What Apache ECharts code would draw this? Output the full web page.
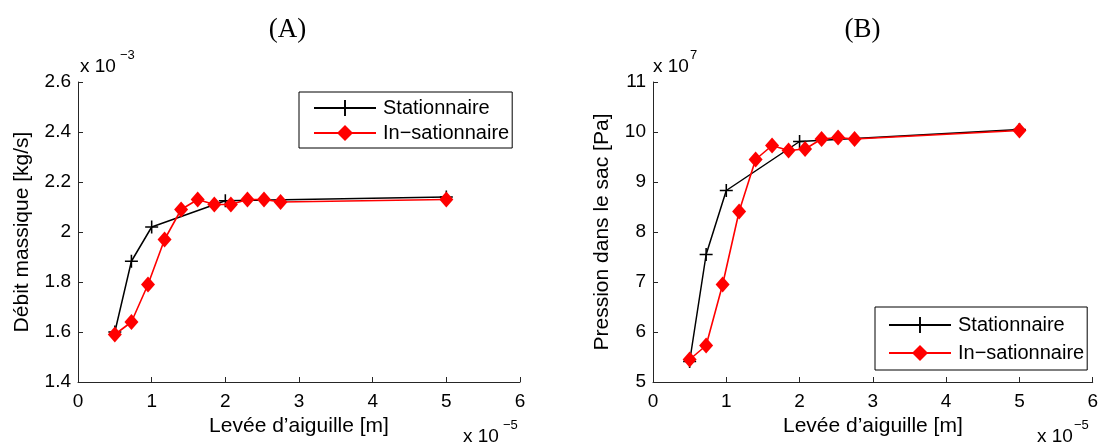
<!DOCTYPE html>
<html>
<head>
<meta charset="utf-8">
<script src="https://cdn.jsdelivr.net/npm/echarts@6/dist/echarts.min.js"></script>
<style>
html,body{margin:0;padding:0;background:#fff;}
#c{width:1101px;height:445px;}
</style>
</head>
<body>
<div id="c"></div>
<script>
// x values in units of 1e-5 m
const xStatA = [0.5, 0.725, 1.0, 2.0, 5.0];
// mass flow in units of 1e-3 kg/s
const yStatA = [1.60, 1.883, 2.02, 2.125, 2.14];
const xInstA = [0.5, 0.725, 0.95, 1.175, 1.4, 1.625, 1.85, 2.075, 2.3, 2.525, 2.75, 5.0];
const yInstA = [1.59, 1.64, 1.79, 1.97, 2.09, 2.13, 2.11, 2.11, 2.13, 2.13, 2.12, 2.13];
// pressure in units of 1e7 Pa
const xStatB = [0.5, 0.725, 1.0, 2.0, 5.0];
const yStatB = [5.41, 7.55, 8.83, 9.81, 10.05];
const xInstB = [0.5, 0.725, 0.95, 1.175, 1.4, 1.625, 1.85, 2.075, 2.3, 2.525, 2.75, 5.0];
const yInstB = [5.45, 5.73, 6.95, 8.41, 9.45, 9.73, 9.63, 9.66, 9.86, 9.89, 9.86, 10.03];

const seriesNames = ['Stationnaire', 'In\u2212sationnaire'];
const titles = ['(A)', '(B)'];
const xName = 'Lev\u00e9e d\u2019aiguille [m]';
const yNames = ['D\u00e9bit massique [kg/s]', 'Pression dans le sac [Pa]'];
const yExp = ['\u22123', '7'];
const xExp = '\u22125';

const pair = (xs, ys) => xs.map((x, i) => [x, ys[i]]);
const FONT = 'Liberation Sans';
const PLUS = 'path://M4.4,0 H5.6 V4.4 H10 V5.6 H5.6 V10 H4.4 V5.6 H0 V4.4 H4.4 Z';

const chart = echarts.init(document.getElementById('c'), null, {renderer: 'canvas'});

const axisCommon = {
  axisLine: {show: true, lineStyle: {color: '#262626', width: 1}},
  axisTick: {show: true, inside: true, length: 5, lineStyle: {color: '#262626'}},
  splitLine: {show: false},
  axisLabel: {color: '#000', fontFamily: FONT, fontSize: 19},
  nameTextStyle: {color: '#000', fontFamily: FONT, fontSize: 21},
  nameLocation: 'middle'
};

function xAxis(gi) {
  return Object.assign({}, axisCommon, {
    type: 'value', gridIndex: gi, min: 0, max: 6, interval: 1,
    name: xName, nameGap: 30,
    axisLabel: Object.assign({}, axisCommon.axisLabel, {margin: 10})
  });
}

function supText(x, y, sx, sy, base, sup) {
  return [
    {type: 'text', left: x, top: y, style: {text: base, font: '19px "' + FONT + '"', fill: '#000'}},
    {type: 'text', left: sx, top: sy, style: {text: sup, font: '13px "' + FONT + '"', fill: '#000'}}
  ];
}

function legendAt(left, top, gap, pad) {
  return {
    left: left, top: top, orient: 'vertical', data: seriesNames,
    itemWidth: 62, itemHeight: 20, itemGap: gap,
    borderColor: '#000', borderWidth: 1, padding: pad,
    textStyle: {fontFamily: FONT, fontSize: 20, color: '#000', padding: [0, 0, 0, 2]},
    backgroundColor: '#fff'
  };
}

const option = {
  animation: false,
  backgroundColor: '#fff',
  grid: [
    {left: 78, top: 82, width: 442, height: 300},
    {left: 653, top: 82, width: 441, height: 300}
  ],
  xAxis: [xAxis(0), xAxis(1)],
  yAxis: [
    Object.assign({}, axisCommon, {type: 'value', gridIndex: 0, min: 1.4, max: 2.6, interval: 0.2,
      name: yNames[0], nameGap: 45,
      axisLabel: Object.assign({}, axisCommon.axisLabel, {margin: 7})}),
    Object.assign({}, axisCommon, {type: 'value', gridIndex: 1, min: 5, max: 11, interval: 1,
      name: yNames[1], nameGap: 40,
      axisLabel: Object.assign({}, axisCommon.axisLabel, {margin: 7})})
  ],
  legend: [
    legendAt(299, 92, 5, [6, 3, 5, 14]),
    legendAt(875, 307, 8, [8, 3, 7, 13])
  ],
  series: [
    {name: seriesNames[0], type: 'line', xAxisIndex: 0, yAxisIndex: 0, data: pair(xStatA, yStatA),
      symbol: PLUS, symbolSize: 13, itemStyle: {color: '#000'}, lineStyle: {color: '#000', width: 1.5}, z: 2},
    {name: seriesNames[1], type: 'line', xAxisIndex: 0, yAxisIndex: 0, data: pair(xInstA, yInstA),
      symbol: 'diamond', symbolSize: [14, 16], itemStyle: {color: '#ff0000'}, lineStyle: {color: '#ff0000', width: 1.6}, z: 3},
    {name: seriesNames[0], type: 'line', xAxisIndex: 1, yAxisIndex: 1, data: pair(xStatB, yStatB),
      symbol: PLUS, symbolSize: 13, itemStyle: {color: '#000'}, lineStyle: {color: '#000', width: 1.5}, z: 2},
    {name: seriesNames[1], type: 'line', xAxisIndex: 1, yAxisIndex: 1, data: pair(xInstB, yInstB),
      symbol: 'diamond', symbolSize: [14, 16], itemStyle: {color: '#ff0000'}, lineStyle: {color: '#ff0000', width: 1.6}, z: 3}
  ],
  graphic: [
    {type: 'text', x: 287.5, y: 30, style: {text: titles[0], font: '27px "Liberation Serif"', fill: '#000', align: 'center', verticalAlign: 'middle'}},
    {type: 'text', x: 862.5, y: 30, style: {text: titles[1], font: '27px "Liberation Serif"', fill: '#000', align: 'center', verticalAlign: 'middle'}}
  ].concat(
    supText(80, 57, 120, 49, 'x 10', yExp[0]),
    supText(653, 57, 690, 49, 'x 10', yExp[1]),
    supText(463, 427, 503, 419, 'x 10', xExp),
    supText(1037, 427, 1074, 419, 'x 10', xExp)
  )
};
chart.setOption(option);
</script>
</body>
</html>
